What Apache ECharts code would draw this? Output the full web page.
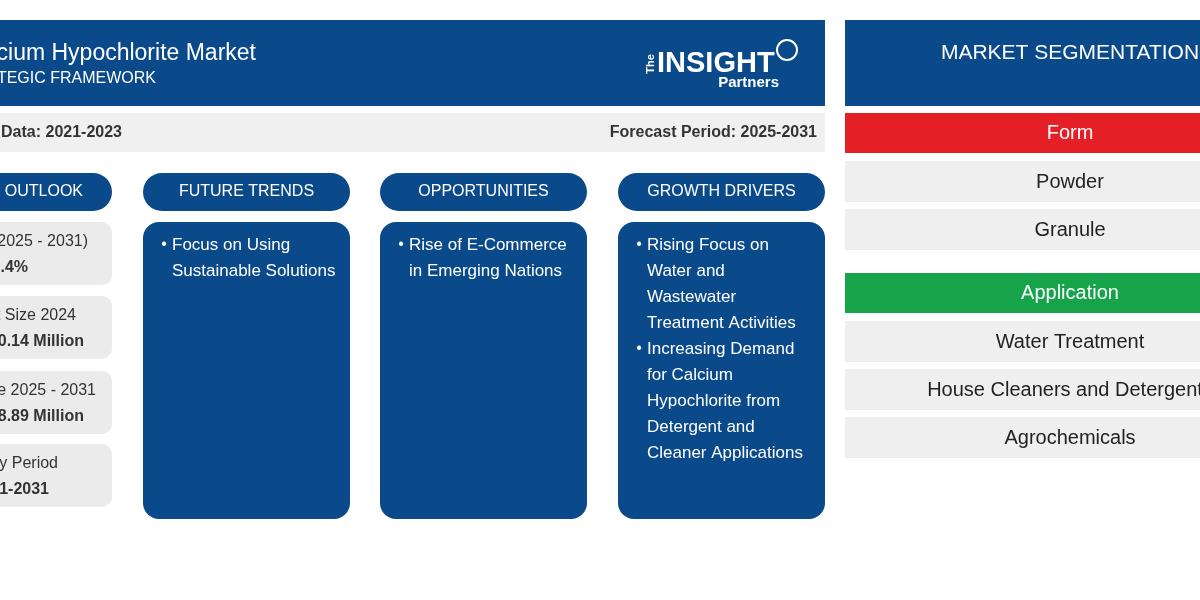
<!DOCTYPE html><html><head><meta charset="utf-8"><script src="https://cdn.jsdelivr.net/npm/echarts@6/dist/echarts.min.js"></script>
<style>html,body{margin:0;padding:0;background:#fff}#c{width:1200px;height:600px}</style></head><body><div id="c"></div><script>
const titleText = 'Calcium Hypochlorite Market';
const subtitleText = 'STRATEGIC FRAMEWORK';
const historic = 'Historic Data: 2021-2023';
const forecast = 'Forecast Period: 2025-2031';
const pillLabels = ['MARKET OUTLOOK','FUTURE TRENDS','OPPORTUNITIES','GROWTH DRIVERS'];
const outlookLabels = ['CAGR (2025 - 2031)','Market Size 2024','Market Size 2025 - 2031','Study Period'];
const outlookValues = ['6.4%','US$ 250.14 Million','US$ 388.89 Million','2021-2031'];
const trends = [['Focus on Using','Sustainable Solutions']];
const opportunities = [['Rise of E-Commerce','in Emerging Nations']];
const drivers = [['Rising Focus on','Water and','Wastewater','Treatment Activities'],['Increasing Demand','for Calcium','Hypochlorite from','Detergent and','Cleaner Applications']];
const segGroups = ['Form','Application'];
const segItems = [['Powder','Granule'],['Water Treatment','House Cleaners and Detergents','Agrochemicals']];

const BLUE='#0b4a8a', F='Arial, Liberation Sans, sans-serif';
const g=[];
function rect(x,y,w,h,fill,r){g.push({type:'rect',shape:{x,y,width:w,height:h,r:r||0},style:{fill}});}
function text(x,y,t,o,rot){g.push({type:'text',x,y,rotation:rot||0,style:Object.assign({text:t,fill:'#222',font:'16px '+F,textAlign:'left',textVerticalAlign:'middle'},o||{})});}
rect(-60,20,885,86,BLUE);
text(256,54,titleText,{fill:'#fff',font:'23px '+F,textAlign:'right'});
text(156,79,subtitleText,{fill:'#fff',font:'16px '+F,textAlign:'right'});
// logo
text(651,64,'The',{fill:'#fff',font:'bold 11px '+F,textAlign:'center'},Math.PI/2);
text(657,64,'INSIGHT',{fill:'#fff',font:'bold 29px '+F});
text(779,83,'Partners',{fill:'#fff',font:'bold 15px '+F,textAlign:'right'});
g.push({type:'circle',shape:{cx:787,cy:50,r:10},style:{fill:'none',stroke:'#fff',lineWidth:2}});
rect(-60,113,885,39,'#f0f0f0');
text(122,133,historic,{font:'bold 16px '+F,textAlign:'right',fill:'#333'});
text(817,133,forecast,{font:'bold 16px '+F,textAlign:'right',fill:'#333'});
const cols=[[-95,112],[143,350],[380,587],[618,825]];
cols.forEach((c,i)=>{
  rect(c[0],173,c[1]-c[0],38,BLUE,19);
  text(i===0?83:(c[0]+c[1])/2,192,pillLabels[i],{fill:'#fff',textAlign:i===0?'right':'center'});
  if(i>0) rect(c[0],222,c[1]-c[0],297,BLUE,16);
});
const ys=[222,296,371,444];
ys.forEach((y,i)=>{
  rect(-95,y,207,63,'#ebebeb',10);
  text([88,76,96,58][i],y+20,outlookLabels[i],{fill:'#333',textAlign:'right'});
  text([28,84,84,49][i],y+46,outlookValues[i],{fill:'#333',font:'bold 16px '+F,textAlign:'right'});
});
[trends,opportunities,drivers].forEach((bul,k)=>{
  const x0=cols[k+1][0]; let y=245;
  bul.forEach(lines=>{lines.forEach((l,j)=>{if(j===0)text(x0+21,y,'•',{fill:'#fff',textAlign:'center'});text(x0+29,y,l,{fill:'#fff',font:'17px '+F});y+=26;});});
});
rect(845,20,400,86,BLUE);
text(1070,53,'MARKET SEGMENTATION',{fill:'#fff',font:'21px '+F,textAlign:'center'});
let y=113;
segGroups.forEach((gname,i)=>{
  rect(845,y,400,40,i===0?'#e41f26':'#16a34a');
  text(1070,y+20,gname,{fill:'#fff',font:'20px '+F,textAlign:'center'});
  y+=48;
  segItems[i].forEach(it=>{rect(845,y,400,41,'#efefef');text(1070,y+21,it,{font:'20px '+F,textAlign:'center',fill:'#222'});y+=48;});
  y+=16;
});
const ch=echarts.init(document.getElementById('c'));
ch.setOption({animation:false,graphic:{elements:g}});
</script></body></html>
